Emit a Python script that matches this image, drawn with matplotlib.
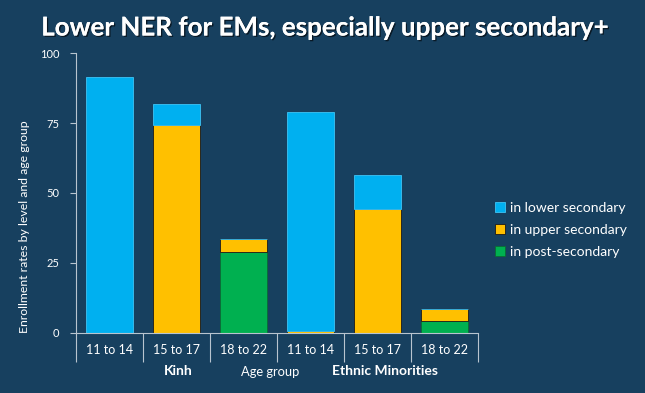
import matplotlib
matplotlib.use("Agg")
import matplotlib.pyplot as plt
import matplotlib.patheffects as pe
import numpy as np

plt.rcParams["font.family"] = ["Lato", "DejaVu Sans"]

# ── Data ──────────────────────────────────────────────────────────────
age_groups = ["11 to 14", "15 to 17", "18 to 22", "11 to 14", "15 to 17", "18 to 22"]
post_secondary = [0, 0, 28.9, 0, 0, 4.4]
upper_secondary = [0, 74.3, 4.7, 0.5, 44.4, 4.1]
lower_secondary = [91.4, 7.5, 0, 78.3, 11.9, 0]
series_names = ["in lower secondary", "in upper secondary", "in post-secondary"]
y_ticks = [0, 25, 50, 75, 100]

BG = "#17405F"
FG = "white"
AXC = "#B8C4CF"
BLUE, YELLOW, GREEN = "#00B0F0", "#FFC000", "#00B050"

fig = plt.figure(figsize=(6.45, 3.93), dpi=100, facecolor=BG)
ax = fig.add_axes([0.118, 0.153, 0.623, 0.712], facecolor=BG)

x = np.arange(len(age_groups))
w = 0.69
post = np.array(post_secondary)
upper = np.array(upper_secondary)
lower = np.array(lower_secondary)

b_post = ax.bar(x, post, w, color=GREEN, edgecolor="#0A6B34", linewidth=0.6)
b_upper = ax.bar(x, upper, w, bottom=post, color=YELLOW, edgecolor="#1A1A1A", linewidth=0.6)
b_lower = ax.bar(x, lower, w, bottom=post + upper, color=BLUE, edgecolor="#3FC4F5", linewidth=0.6)

ax.set_xlim(-0.5, len(age_groups) - 0.5)
ax.set_ylim(0, 100)
ax.set_yticks(y_ticks)
ax.set_yticklabels([str(v) for v in y_ticks], color=FG, fontsize=8)
ax.tick_params(axis="y", colors=AXC, labelcolor=FG, length=4, width=0.8, pad=8)

ax.set_xticks(x)
ax.set_xticklabels(age_groups, color=FG, fontsize=9)
ax.tick_params(axis="x", which="major", length=0, pad=8)
ax.set_xticks(np.arange(-0.5, len(age_groups)), minor=True)
ax.tick_params(axis="x", which="minor", length=21, width=0.8, color=AXC)

for s in ["top", "right"]:
    ax.spines[s].set_visible(False)
for s in ["left", "bottom"]:
    ax.spines[s].set_color(AXC)
    ax.spines[s].set_linewidth(0.8)

ax.set_ylabel("Enrollment rates by level and age group", color=FG, fontsize=8.8)
ax.yaxis.set_label_coords(-0.115, 0.38)

# group labels under the categories
ax.text(1.02, -0.135, "Kinh", transform=ax.get_xaxis_transform(), ha="center", va="center",
        color=FG, fontsize=10, fontweight="bold")
ax.text(2.40, -0.14, "Age group", transform=ax.get_xaxis_transform(), ha="center", va="center",
        color=FG, fontsize=9.3)
ax.text(4.11, -0.135, "Ethnic Minorities", transform=ax.get_xaxis_transform(), ha="center",
        va="center", color=FG, fontsize=10, fontweight="bold")

leg = fig.legend([b_lower, b_upper, b_post], series_names, loc="center left",
                 bbox_to_anchor=(0.748, 0.415), frameon=False, fontsize=10,
                 handlelength=0.75, handleheight=0.75, handletextpad=0.35, labelspacing=0.72)
for t in leg.get_texts():
    t.set_color(FG)

fig.text(0.505, 0.93, "Lower NER for EMs, especially upper secondary+", ha="center", va="center",
         color=FG, fontsize=18.7, fontweight="bold",
         path_effects=[pe.withSimplePatchShadow(offset=(1, -1), shadow_rgbFace="black", alpha=0.6),
                       pe.Normal()])

fig.savefig("out.png", dpi=100, facecolor=BG)
